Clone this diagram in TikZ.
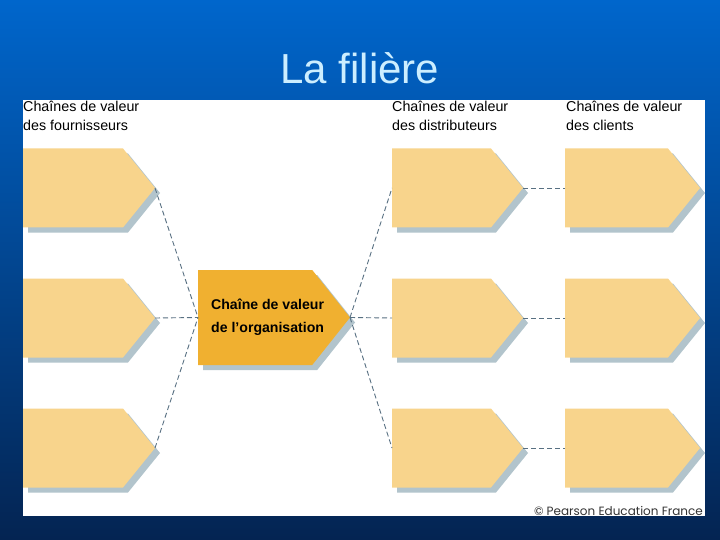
\documentclass[tikz,border=0pt]{standalone}
\usepackage{fontspec}
\setmainfont{Liberation Sans}
\newfontfamily\creditfont{Poppins}
\usepackage{xcolor}
\definecolor{bgtop}{RGB}{0,102,204}
\definecolor{bgmid}{RGB}{8,72,160}
\definecolor{bgbottom}{RGB}{4,36,82}
\definecolor{titlecol}{RGB}{204,238,255}
\definecolor{chainfill}{RGB}{248,212,140}
\definecolor{orgfill}{RGB}{240,176,48}
\definecolor{shadowcol}{RGB}{178,196,204}
\definecolor{linkcol}{RGB}{88,112,130}
\usepackage{tikz}
\usetikzlibrary{positioning, shapes.symbols, shadows}
\tikzstyle{chain} = [
    signal, signal to=east,
    signal pointer angle=102,
    inner sep=0pt, outer sep=0pt,
    minimum height=79pt,
    anchor=west,
    fill=chainfill,
    drop shadow={shadow xshift=5pt, shadow yshift=-5pt, opacity=1, fill=shadowcol},
]
\tikzstyle{orgchain} = [
    chain,
    signal pointer angle=103,
    minimum width=152pt,
    minimum height=95pt,
    fill=orgfill,
]
\tikzstyle{orglabel} = [
    inner sep=0pt, anchor=west,
    align=left,
    font=\bfseries\fontsize{14.1}{23}\selectfont,
]
\tikzstyle{header} = [
    anchor=north west, inner sep=0pt,
    align=left,
    font=\fontsize{14.3}{19}\selectfont,
]
\tikzstyle{link} = [
    draw=linkcol, line width=0.9pt,
    dash pattern=on 5pt off 3pt,
]

\begin{document}
\begin{tikzpicture}[x=1pt, y=-1pt]
    % background
    \shade[top color=bgtop, middle color=bgmid, bottom color=bgbottom] (0,0) rectangle (720,540);
    \useasboundingbox (0,0) rectangle (720,540);
    \fill[white] (23,100) rectangle (705,516);
    \node (title) at (360,68) [text=titlecol, font=\fontsize{42}{48}\selectfont] {La filière};

    % boxes
    \foreach \y[count=\x] in {188,318,448} {
        \node (sup\x) at (23,\y) [chain, minimum width=132pt] {};
        \node (dist\x) at (392,\y) [chain, minimum width=131pt] {};
        \node (cli\x) at (565,\y) [chain, minimum width=135pt] {};
    }
    \node (org) at (198,317.5) [orgchain] {};
    \node (orgtext) [orglabel, right=13pt of org.west] {Chaîne de valeur\\de l’organisation};

    % headers
    \node (hsup) at (23,101) [header] {Chaînes de valeur\\des fournisseurs};
    \node (hdist) at (392,101) [header] {Chaînes de valeur\\des distributeurs};
    \node (hcli) at (566,101) [header] {Chaînes de valeur\\des clients};
    \node (credit) at (703,515) [anchor=base east, inner sep=0pt, text=black!80,
        font=\creditfont\fontsize{12}{14}\selectfont] {© Pearson Education France};

    % links
    \foreach \x in {1,2,3} {
        \draw [link] (sup\x.east) -- (org.west);
        \draw [link] (org.east) -- (dist\x.west);
        \draw [link] (dist\x.east) -- (cli\x.west);
    }

\end{tikzpicture}
\end{document}
